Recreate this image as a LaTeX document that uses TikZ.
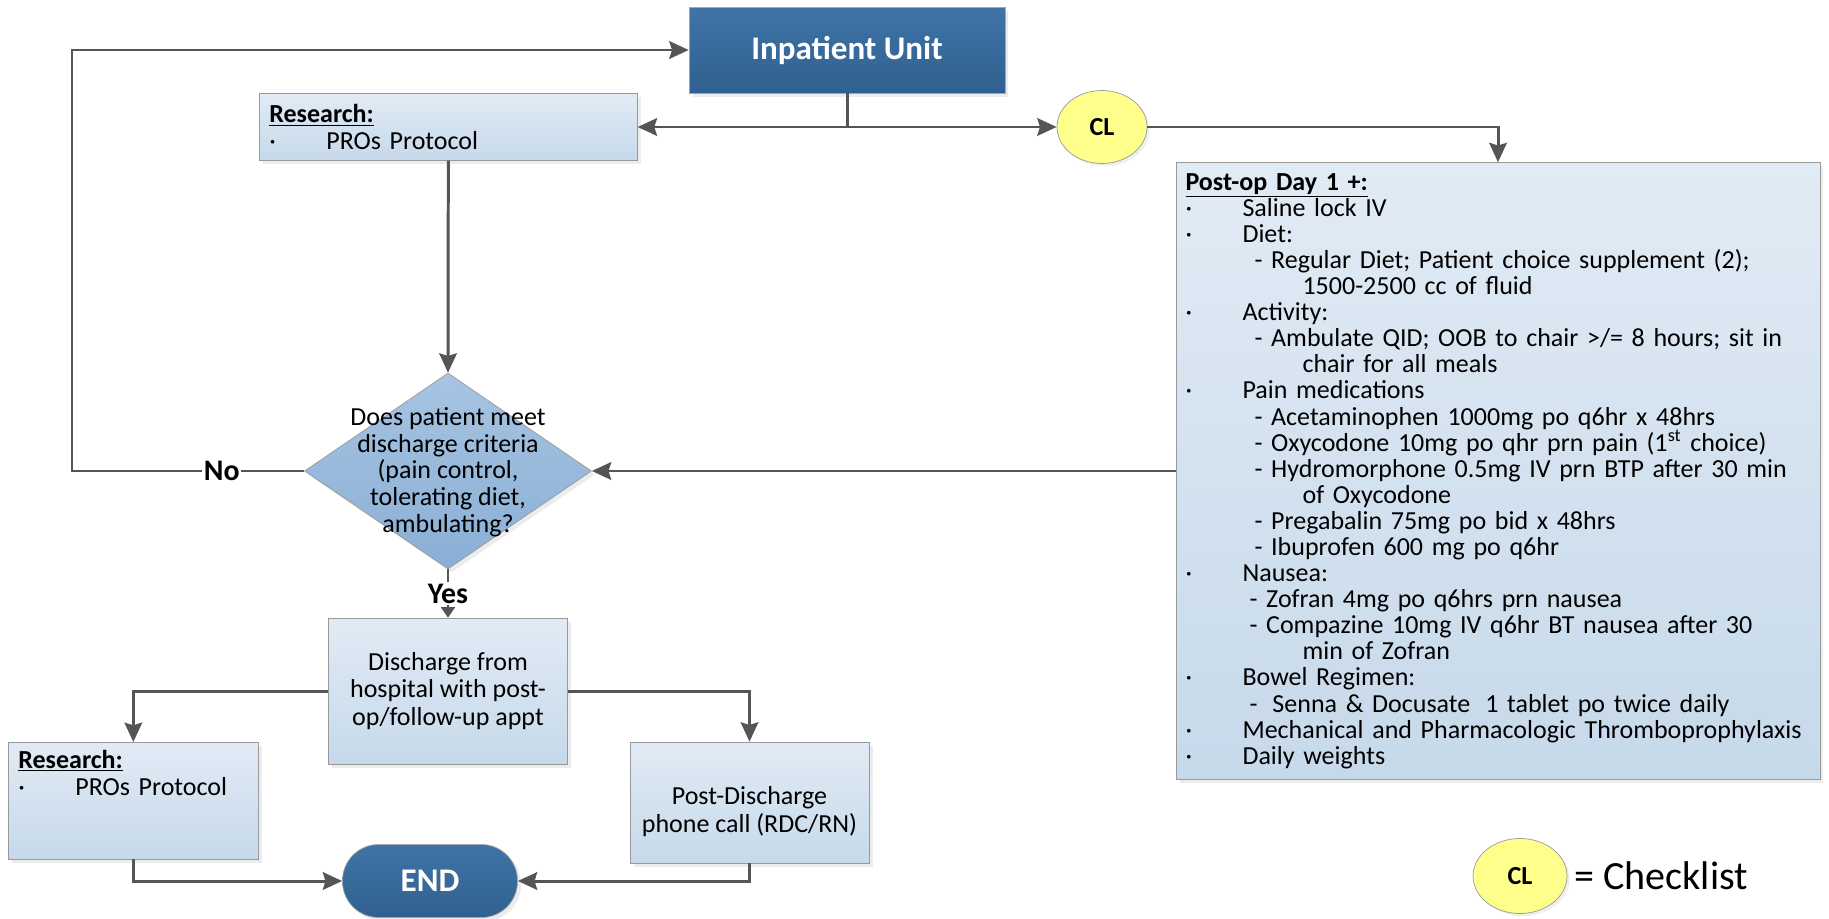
\documentclass[tikz,border=0pt]{standalone}
\usepackage{fontspec}
\setmainfont{Carlito}
\usetikzlibrary{arrows.meta}
\usetikzlibrary{shapes.geometric}
\usetikzlibrary{shadows}

\definecolor{boxtop}{HTML}{E1EBF5}
\definecolor{boxbot}{HTML}{C6D9EA}
\definecolor{darktop}{HTML}{3F74A7}
\definecolor{darkbot}{HTML}{30608F}
\definecolor{dectop}{HTML}{A7C4E2}
\definecolor{decbot}{HTML}{8AAFD5}
\definecolor{clyellow}{HTML}{FFFF8C}
\definecolor{linegray}{HTML}{555555}

\begin{document}
\begin{tikzpicture}[
    x=0.02cm, y=-0.02cm,
    box/.style={rectangle, draw=black!40, top color=boxtop, bottom color=boxbot,
        drop shadow={shadow xshift=2pt, shadow yshift=-2pt, fill=black!15},
        font=\fontsize{14.8}{15.4}\selectfont},
    darkbox/.style={rectangle, draw=black!35, top color=darktop, bottom color=darkbot,
        drop shadow={shadow xshift=2pt, shadow yshift=-2pt, fill=black!15},
        text=white, font=\fontsize{18.8}{20}\selectfont\bfseries},
    research/.style={box, anchor=north west, align=left, inner xsep=0.2cm, inner ysep=0.15cm},
    decision/.style={diamond, draw=black!40, top color=dectop, bottom color=decbot,
        drop shadow={shadow xshift=2pt, shadow yshift=-2pt, fill=black!15},
        inner sep=0, font=\fontsize{14.8}{15.1}\selectfont},
    checkl/.style={ellipse, draw=black!40, fill=clyellow, inner sep=0,
        drop shadow={shadow xshift=1.5pt, shadow yshift=-1.5pt, fill=black!12},
        font=\fontsize{14.8}{15}\selectfont\bfseries},
    line/.style={line width=1.7pt, draw=linegray},
    arrow/.style={line, -{Stealth[length=11pt, width=10pt, inset=1.5pt]}},
    arrowsmall/.style={line width=1.2pt, draw=linegray, -{Triangle[length=6pt, width=8pt]}},
    lbl/.style={font=\fontsize{17}{18}\selectfont\bfseries, fill=white, inner sep=1pt}
]
\useasboundingbox (0,0) rectangle (1829,919);

\node[darkbox, minimum width=6.32cm, minimum height=1.72cm] (inpatient) at (847,50) {Inpatient Unit};

\node[research, minimum width=7.56cm, minimum height=1.34cm, text width=7.16cm] (resin) at (259,93)
    {\underline{\textbf{Research:}}\\ \makebox[1.14cm][l]{·}PROs Protocol};

\node[checkl, minimum width=1.8cm, minimum height=1.46cm] (cl) at (1102,127) {CL};

\node[box, align=left, text width=12.5cm, inner xsep=0.19cm, minimum height=12.34cm,
    font=\fontsize{14.8}{14.85}\selectfont] (postop) at (1498,471)
    {\underline{\textbf{Post-op Day 1 +:}}\\
    \makebox[1.14cm][l]{·}Saline lock IV\\
    \makebox[1.14cm][l]{·}Diet:\\
    \hspace*{1.38cm}- Regular Diet; Patient choice supplement (2);\\
    \hspace*{2.34cm}1500-2500 cc of fluid\\
    \makebox[1.14cm][l]{·}Activity:\\
    \hspace*{1.38cm}- Ambulate QID; OOB to chair >/= 8 hours; sit in\\
    \hspace*{2.34cm}chair for all meals\\
    \makebox[1.14cm][l]{·}Pain medications\\
    \hspace*{1.38cm}- Acetaminophen 1000mg po q6hr x 48hrs\\
    \hspace*{1.38cm}- Oxycodone 10mg po qhr prn pain (1\textsuperscript{st} choice)\\
    \hspace*{1.38cm}- Hydromorphone 0.5mg IV prn BTP after 30 min\\
    \hspace*{2.34cm}of Oxycodone\\
    \hspace*{1.38cm}- Pregabalin 75mg po bid x 48hrs\\
    \hspace*{1.38cm}- Ibuprofen 600 mg po q6hr\\
    \makebox[1.14cm][l]{·}Nausea:\\
    \hspace*{1.28cm}- Zofran 4mg po q6hrs prn nausea\\
    \hspace*{1.28cm}- Compazine 10mg IV q6hr BT nausea after 30\\
    \hspace*{2.34cm}min of Zofran\\
    \makebox[1.14cm][l]{·}Bowel Regimen:\\
    \hspace*{1.28cm}-\hspace*{0.3cm}Senna \& Docusate\hspace*{0.3cm}1 tablet po twice daily\\
    \makebox[1.14cm][l]{·}Mechanical and Pharmacologic Thromboprophylaxis\\
    \makebox[1.14cm][l]{·}Daily weights};

\node[decision, minimum width=5.74cm, minimum height=3.92cm] (crit) at (448,471)
    {\smash{\makebox[0pt]{\raisebox{-5pt}{\begin{tabular}{@{}c@{}}Does patient meet\\discharge criteria\\(pain control,\\tolerating diet,\\ambulating?\end{tabular}}}}};

\node[box, align=center, minimum width=4.78cm, minimum height=2.92cm,
    font=\fontsize{14.8}{15.8}\selectfont] (discharge) at (448,691)
    {Discharge from\\hospital with post-\\op/follow-up appt};

\node[research, minimum width=5cm, text width=4.6cm, text depth=1.67cm] (resout) at (8,742)
    {\underline{\textbf{Research:}}\\ \makebox[1.14cm][l]{·}PROs Protocol};

\node[box, align=center, minimum width=4.78cm, minimum height=2.42cm, text height=36pt] (postdis) at (749.5,802.5)
    {Post-Discharge\\phone call (RDC/RN)};

\node[darkbox, rounded corners=0.72cm, minimum width=3.5cm, minimum height=1.46cm] (endnode) at (430,881) {END};

% legend
\node[checkl, minimum width=1.88cm, minimum height=1.5cm] (clkey) at (1520,876) {CL};
\node[anchor=west, inner sep=0, font=\fontsize{22.8}{24}\selectfont] (clkeytxt) at (1574,876) {= Checklist};

% connectors
\coordinate (split) at (inpatient.south |- cl.west);
\coordinate (back) at (72,471);
\draw[line] (inpatient.south) -- (split);
\draw[arrow] (split) -- (split -| resin.east);
\draw[arrow] (split) -- (cl.west);
\draw[arrow] (cl.east) -| (postop.north);
\draw[arrow] (resin.south) -- (crit.north);
\draw[arrow] (postop.west) -- (crit.east);
\draw[arrow] (crit.west) -- node[lbl, pos=0.355] (nolbl) {No} (back) |- (inpatient.west);
\draw[arrowsmall] (crit.south) -- node[lbl] (yeslbl) {Yes} (discharge.north);
\draw[arrow] (discharge.west) -| (resout.north);
\draw[arrow] (discharge.east) -| (postdis.north);
\draw[arrow] (resout.south) |- (endnode.west);
\draw[arrow] (postdis.south) |- (endnode.east);
\end{tikzpicture}
\end{document}
